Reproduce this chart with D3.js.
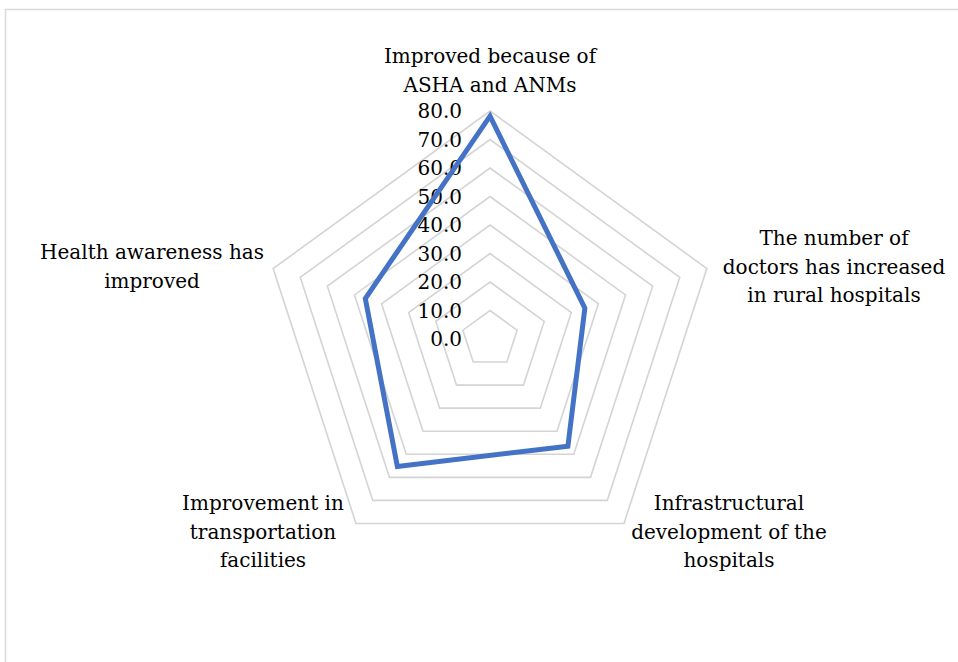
<!DOCTYPE html>
<html>
<head>
<meta charset="utf-8">
<script src="https://cdn.jsdelivr.net/npm/d3@7"></script>
<style>
  html, body { margin: 0; padding: 0; background: #ffffff; }
  svg { display: block; }
  text { font-family: "DejaVu Serif", "Liberation Serif", serif; fill: #000; }
</style>
</head>
<body>
<svg id="chart" width="958" height="662"></svg>
<script>
// ---- data ----
const categories = [
  "Improved because of ASHA and ANMs",
  "The number of doctors has increased in rural hospitals",
  "Infrastructural development of the hospitals",
  "Improvement in transportation facilities",
  "Health awareness has improved"
];
const categoryLines = [
  ["Improved because of", "ASHA and ANMs"],
  ["The number of", "doctors has increased", "in rural hospitals"],
  ["Infrastructural", "development of the", "hospitals"],
  ["Improvement in", "transportation", "facilities"],
  ["Health awareness has", "improved"]
];
const values = [78.2, 35.0, 46.5, 55.3, 46.0];
const tickValues = [0, 10, 20, 30, 40, 50, 60, 70, 80];
const tickLabels = ["0.0", "10.0", "20.0", "30.0", "40.0", "50.0", "60.0", "70.0", "80.0"];

// ---- layout ----
const svg = d3.select("#chart");
const cx = 490, cy = 339, R = 228;
const r = d3.scaleLinear().domain([0, 80]).range([0, R]);
const angle = d3.scaleLinear().domain([0, categories.length]).range([0, 2 * Math.PI]);

// chart area border
svg.append("rect")
  .attr("x", 5.5).attr("y", 9.5)
  .attr("width", 1000).attr("height", 700)
  .attr("fill", "none")
  .attr("stroke", "#d9d9d9")
  .attr("stroke-width", 1.5);

const g = svg.append("g").attr("transform", `translate(${cx},${cy})`);

const radial = d3.lineRadial()
  .angle((d, i) => angle(i))
  .radius(d => r(d))
  .curve(d3.curveLinearClosed);

// grid rings
g.selectAll("path.ring")
  .data(tickValues.filter(t => t > 0))
  .join("path")
  .attr("class", "ring")
  .attr("d", t => radial(categories.map(() => t)))
  .attr("fill", "none")
  .attr("stroke", "#d4d4d4")
  .attr("stroke-width", 1.6);

// tick labels
g.selectAll("text.tick")
  .data(tickValues)
  .join("text")
  .attr("class", "tick")
  .attr("x", -28)
  .attr("y", t => -r(t))
  .attr("dy", "0.36em")
  .attr("text-anchor", "end")
  .attr("font-size", 20)
  .text((t, i) => tickLabels[i]);

// data series
g.append("path")
  .attr("d", radial(values))
  .attr("fill", "none")
  .attr("stroke", "#4472c4")
  .attr("stroke-width", 5)
  .attr("stroke-linejoin", "miter");

// category labels
const labelPos = [
  {x: 490, y: 56, anchor: "middle"},
  {x: 834, y: 238, anchor: "middle"},
  {x: 729, y: 503, anchor: "middle"},
  {x: 263, y: 503, anchor: "middle"},
  {x: 152, y: 252, anchor: "middle"}
];
const lineH = 28.5;
categoryLines.forEach((lines, i) => {
  const p = labelPos[i];
  const t = svg.append("text")
    .attr("text-anchor", p.anchor)
    .attr("font-size", 20);
  lines.forEach((ln, j) => {
    t.append("tspan")
      .attr("x", p.x)
      .attr("y", p.y + j * lineH)
      .attr("dy", "0.36em")
      .text(ln);
  });
});
</script>
</body>
</html>
